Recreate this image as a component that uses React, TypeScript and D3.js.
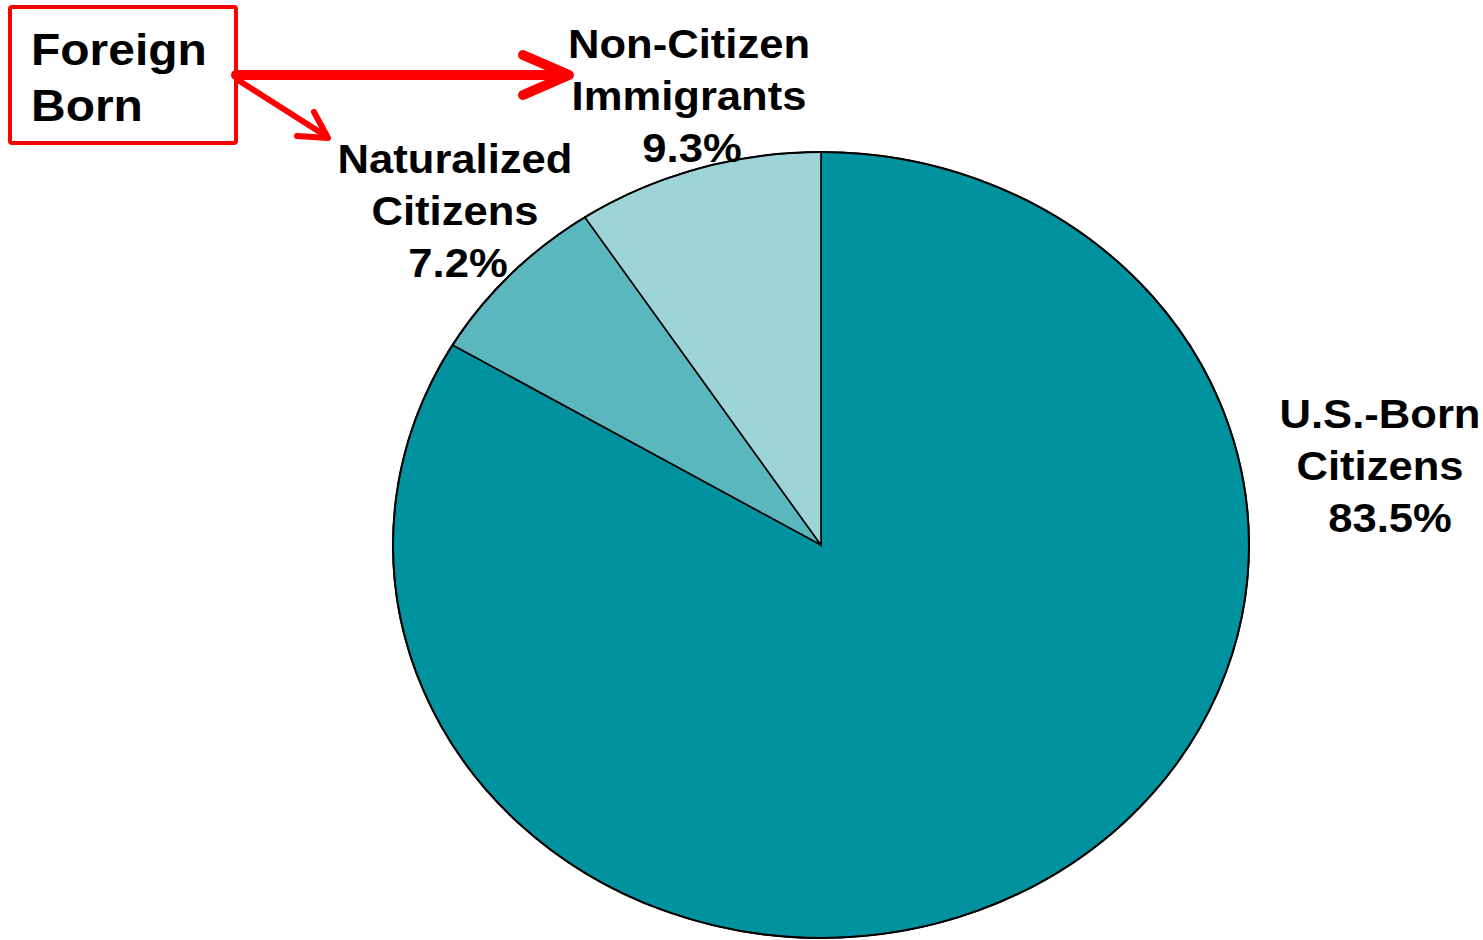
import React from "react";
import * as d3 from "d3";

const categories = ["U.S.-Born Citizens", "Naturalized Citizens", "Non-Citizen Immigrants"];
const values = [83.5, 7.2, 9.3];
const colors = ["#00929F", "#5BB7BE", "#9DD4D8"];
const labelLines = [
  ["U.S.-Born", "Citizens", "83.5%"],
  ["Naturalized", "Citizens", "7.2%"],
  ["Non-Citizen", "Immigrants", "9.3%"],
];
const labelPos = [
  [1380, 428],
  [455, 173],
  [689, 58],
];
const pctShift = [10, 3, 3];

const W = 1483;
const H = 940;
const cx = 821;
const cy = 545;
const rx = 428;
const ry = 393;
const SX = 1.09;

export default function App() {
  const pie = d3.pie<number>().sort(null).startAngle(0).endAngle(2 * Math.PI);
  const arcs = pie(values);
  const arc = d3.arc<d3.PieArcDatum<number>>().innerRadius(0).outerRadius(ry);
  const font = "'Liberation Sans', Arial, sans-serif";

  return (
    <svg width={W} height={H} style={{ position: "absolute", left: 0, top: 0, background: "#fff" }}>
      <g transform={`translate(${cx},${cy}) scale(${rx / ry},1)`}>
        {arcs.map((a, i) => (
          <path
            key={categories[i]}
            d={arc(a) || ""}
            fill={colors[i]}
            stroke="#000"
            strokeWidth={1.6}
            vectorEffect="non-scaling-stroke"
          />
        ))}
        <ellipse cx={0} cy={0} rx={ry} ry={ry} fill="none" stroke="#000" strokeWidth={2} vectorEffect="non-scaling-stroke" />
      </g>

      {labelLines.map((lines, i) => (
        <g key={i} transform={`translate(${labelPos[i][0]},${labelPos[i][1]}) scale(${SX},1)`}>
          {lines.map((t, j) => (
            <text
              key={j}
              x={j === 2 ? pctShift[i] / SX : 0}
              y={j * 52}
              textAnchor="middle"
              fontFamily={font}
              fontWeight="bold"
              fontSize={40}
              fill="#000"
            >
              {t}
            </text>
          ))}
        </g>
      ))}

      {/* Foreign Born box */}
      <rect x={10} y={7} width={226} height={136} fill="#fff" stroke="#FF0000" strokeWidth={4} rx={2} />
      <g transform={`translate(31,65) scale(${SX},1)`}>
        <text x={0} y={0} fontFamily={font} fontWeight="bold" fontSize={44} fill="#000">Foreign</text>
        <text x={0} y={56} fontFamily={font} fontWeight="bold" fontSize={44} fill="#000">Born</text>
      </g>

      {/* Arrows */}
      <g stroke="#FF0000" fill="none" strokeLinecap="round" strokeLinejoin="round">
        <line x1={236} y1={75} x2={565} y2={75} strokeWidth={10} />
        <polyline points="523,55 569,75 523,95" strokeWidth={10} />
        <line x1={238} y1={80} x2={326} y2={136} strokeWidth={6} />
        <polyline points="314,112 328,138 297,136" strokeWidth={6} />
      </g>
    </svg>
  );
}
